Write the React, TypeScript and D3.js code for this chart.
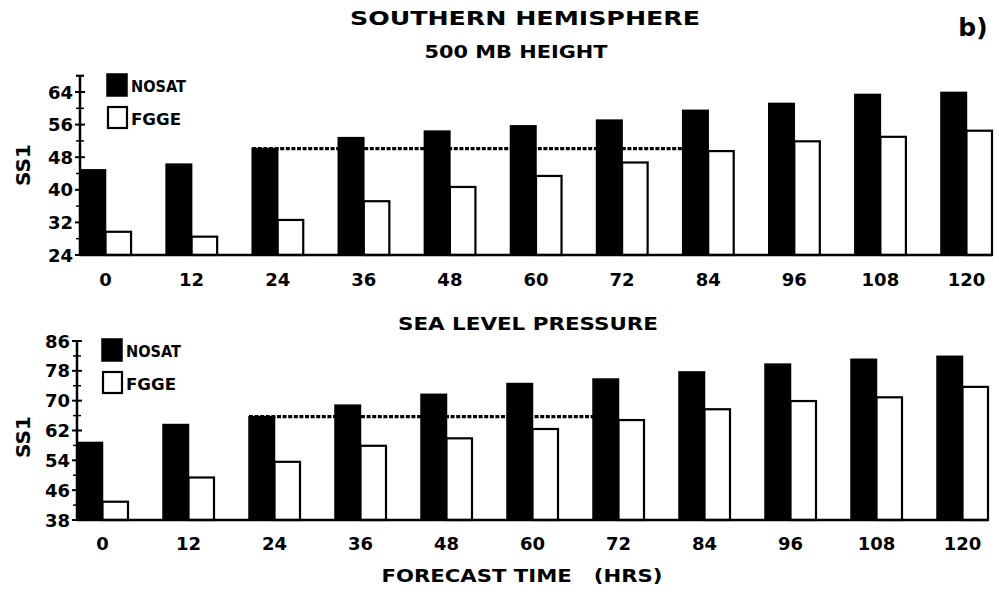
import * as d3 from 'd3';

// forecast hours (x categories)
const hours = [0, 12, 24, 36, 48, 60, 72, 84, 96, 108, 120];

// 500 mb height SS1 scores
const h500Nosat = [44.9, 46.3, 50.1, 52.8, 54.4, 55.7, 57.1, 59.5, 61.2, 63.4, 63.9];
const h500Fgge = [29.7, 28.5, 32.6, 37.2, 40.7, 43.4, 46.7, 49.5, 51.9, 53.0, 54.5];
const h500Ticks = [24, 32, 40, 48, 56, 64];

// sea level pressure SS1 scores
const slpNosat = [58.8, 63.6, 65.7, 68.8, 71.7, 74.6, 75.8, 77.7, 79.8, 81.1, 81.9];
const slpFgge = [42.9, 49.4, 53.6, 57.9, 59.9, 62.4, 64.8, 67.7, 69.9, 70.9, 73.7];
const slpTicks = [38, 46, 54, 62, 70, 78, 86];

const seriesNames = ['NOSAT', 'FGGE'];

const FONT = '"DejaVu Sans", Verdana, sans-serif';

type PanelProps = {
  title: string;
  titleX: number;
  titleY: number;
  titleLen: number;
  nosat: number[];
  fgge: number[];
  ticks: number[];
  yTop: number; // value where the axis line stops
  xRange: [number, number];
  yRange: [number, number];
  refEnd: number; // hour where the dotted reference line stops
  legendX: number;
  legendY: number;
  ylabelY: number;
  tickLabelY: number;
};

function Panel(p: PanelProps) {
  const x = d3.scaleBand<number>().domain(hours).range(p.xRange).paddingInner(0.407).paddingOuter(0).align(0);
  const yMin = p.ticks[0];
  const yMax = p.ticks[p.ticks.length - 1];
  const y = d3.scaleLinear().domain([yMin, yMax]).range(p.yRange);
  const bw = x.bandwidth() / 2;
  const axisX = p.xRange[0];
  const minor = d3.range(yMin + 4, p.yTop + 0.1, 8);
  const refLevel = p.nosat[hours.indexOf(24)];

  return (
    <g>
      <text
        x={p.titleX}
        y={p.titleY}
        textAnchor="middle"
        fontSize={17}
        fontWeight="bold"
        fontFamily={FONT}
        textLength={p.titleLen}
        lengthAdjust="spacingAndGlyphs"
      >
        {p.title}
      </text>

      {/* bars */}
      {hours.map((h, i) => (
        <g key={h}>
          <rect x={x(h)!} y={y(p.nosat[i])} width={bw} height={y(yMin) - y(p.nosat[i])} fill="#000" stroke="#000" strokeWidth={1.5} />
          <rect x={x(h)! + bw} y={y(p.fgge[i])} width={bw} height={y(yMin) - y(p.fgge[i])} fill="#fff" stroke="#000" strokeWidth={2.2} />
        </g>
      ))}

      {/* dotted reference line at the 24h NOSAT level */}
      <line
        x1={x(24)!}
        x2={x(p.refEnd)!}
        y1={y(refLevel)}
        y2={y(refLevel)}
        stroke="#000"
        strokeWidth={3.2}
        strokeDasharray="4,1.6"
      />

      {/* x axis */}
      <line x1={axisX} x2={p.xRange[1]} y1={y(yMin)} y2={y(yMin)} stroke="#000" strokeWidth={2.5} />
      {hours.map((h) => (
        <text key={h} x={x(h)! + x.bandwidth() / 2} y={p.tickLabelY} textAnchor="middle" fontSize={18} fontWeight="bold" fontFamily={FONT}>
          {h}
        </text>
      ))}

      {/* y axis */}
      <line x1={axisX} x2={axisX} y1={y(yMin)} y2={y(p.yTop)} stroke="#000" strokeWidth={2.5} />
      <line x1={axisX - 4} x2={axisX + 4} y1={y(p.yTop)} y2={y(p.yTop)} stroke="#000" strokeWidth={2} />
      {p.ticks.map((t) => (
        <g key={t}>
          <line x1={axisX - 5} x2={axisX + 5} y1={y(t)} y2={y(t)} stroke="#000" strokeWidth={2} />
          <text x={axisX - 7} y={y(t) + 6.5} textAnchor="end" fontSize={18} fontWeight="bold" fontFamily={FONT}>
            {t}
          </text>
        </g>
      ))}
      {minor.map((t) => (
        <line key={t} x1={axisX - 4} x2={axisX + 4} y1={y(t)} y2={y(t)} stroke="#000" strokeWidth={1.5} />
      ))}
      <text
        transform={`translate(30, ${p.ylabelY}) rotate(-90)`}
        textAnchor="middle"
        fontSize={20}
        fontWeight="bold"
        fontFamily={FONT}
      >
        SS1
      </text>

      {/* legend */}
      <g transform={`translate(${p.legendX}, ${p.legendY})`}>
        <rect x={0} y={0} width={20} height={22} fill="#000" stroke="#000" strokeWidth={1.5} />
        <text x={24} y={18} fontSize={16} fontWeight="bold" fontFamily={FONT} textLength={55} lengthAdjust="spacingAndGlyphs">
          {seriesNames[0]}
        </text>
        <rect x={1} y={33} width={19} height={21} fill="#fff" stroke="#000" strokeWidth={2.2} />
        <text x={24} y={51} fontSize={16} fontWeight="bold" fontFamily={FONT} textLength={50} lengthAdjust="spacingAndGlyphs">
          {seriesNames[1]}
        </text>
      </g>
    </g>
  );
}

export default function App() {
  return (
    <svg width={999} height={592} style={{ position: 'absolute', left: 0, top: 0, background: '#fff' }}>
      <rect width={999} height={592} fill="#fff" />
      <text
        x={525}
        y={25}
        textAnchor="middle"
        fontSize={20}
        fontWeight="bold"
        fontFamily={FONT}
        textLength={350}
        lengthAdjust="spacingAndGlyphs"
      >
        SOUTHERN HEMISPHERE
      </text>
      <text x={973} y={36} textAnchor="middle" fontSize={25} fontWeight="bold" fontFamily={FONT}>
        b)
      </text>

      <Panel
        title="500 MB HEIGHT"
        titleX={516}
        titleY={58}
        titleLen={183}
        nosat={h500Nosat}
        fgge={h500Fgge}
        ticks={h500Ticks}
        yTop={68}
        xRange={[80, 992]}
        yRange={[255, 92]}
        refEnd={84}
        legendX={107}
        legendY={74}
        ylabelY={165}
        tickLabelY={286}
      />
      <Panel
        title="SEA LEVEL PRESSURE"
        titleX={528}
        titleY={330}
        titleLen={260}
        nosat={slpNosat}
        fgge={slpFgge}
        ticks={slpTicks}
        yTop={86}
        xRange={[77, 988]}
        yRange={[520, 341]}
        refEnd={72}
        legendX={102}
        legendY={339}
        ylabelY={437}
        tickLabelY={550}
      />

      <text
        x={522}
        y={582}
        textAnchor="middle"
        fontSize={17}
        fontWeight="bold"
        fontFamily={FONT}
        textLength={281}
        lengthAdjust="spacingAndGlyphs"
        xmlSpace="preserve"
      >
        FORECAST TIME   (HRS)
      </text>
    </svg>
  );
}
